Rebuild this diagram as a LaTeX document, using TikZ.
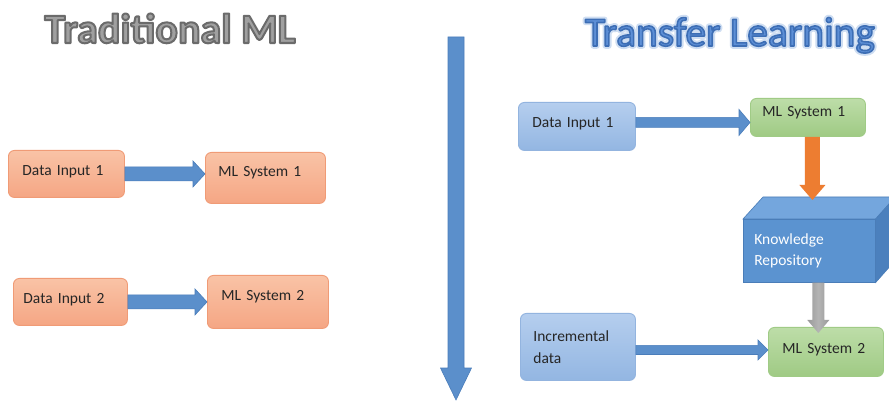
\documentclass[tikz,border=0pt]{standalone}
\usepackage{fontspec}
\setmainfont{Carlito}
\usetikzlibrary{calc}

\definecolor{orTop}{HTML}{F9C3A6}
\definecolor{orBot}{HTML}{F5A684}
\definecolor{orLine}{HTML}{F09B76}
\definecolor{blTop}{HTML}{B5CEEE}
\definecolor{blBot}{HTML}{93B6E2}
\definecolor{blLine}{HTML}{93B4DF}
\definecolor{grTop}{HTML}{BDDDA8}
\definecolor{grBot}{HTML}{9FCA84}
\definecolor{grLine}{HTML}{A0CB86}
\definecolor{textdark}{HTML}{262626}
\definecolor{arrowBlue}{HTML}{5B8FCB}
\definecolor{arrowBlueLine}{HTML}{4A7DBA}
\definecolor{arrowOrange}{HTML}{ED7D31}
\definecolor{arrowGrayEdge}{HTML}{999999}
\definecolor{arrowGrayMid}{HTML}{B4B4B4}
\definecolor{cubeFront}{HTML}{5B93D0}
\definecolor{cubeTop}{HTML}{74A6DD}
\definecolor{cubeSide}{HTML}{4B80BD}
\definecolor{cubeLine}{HTML}{4A7DB8}
\definecolor{titleGray}{HTML}{A0A0A0}
\definecolor{titleBlue}{HTML}{5D8FD6}
\definecolor{titleGlow}{HTML}{CFDDF2}

% text filled in #1 and stroked with rgb #2 at width #3 (PDF text render mode 2)
\newcommand{\strokedtext}[4]{%
  {\color{#1}\special{pdf:literal direct 2 Tr #3 w 1 j #2 RG}#4\special{pdf:literal direct 0 Tr}}}

% horizontal block arrow: style, from, to, shaft half-height, head half-height, head length
\newcommand{\hblock}[6]{%
  \path[#1] let \p1=(#2), \p2=(#3) in
    (\x1,\y1+#4) -- (\x2-#6,\y1+#4) -- (\x2-#6,\y1+#5) -- (\x2,\y1)
    -- (\x2-#6,\y1-#5) -- (\x2-#6,\y1-#4) -- (\x1,\y1-#4) -- cycle;}
% downward block arrow: style, from, to, shaft half-width, head half-width, head length
\newcommand{\vblock}[6]{%
  \path[#1] let \p1=(#2), \p2=(#3) in
    (\x1-#4,\y1) -- (\x1-#4,\y2+#6) -- (\x1-#5,\y2+#6) -- (\x1,\y2)
    -- (\x1+#5,\y2+#6) -- (\x1+#4,\y2+#6) -- (\x1+#4,\y1) -- cycle;}

\begin{document}
\begin{tikzpicture}[x=1pt,y=-1pt,
  box/.style={rounded corners=6pt, draw, line width=0.9pt, anchor=north west,
    inner ysep=0pt, align=left, text=textdark,
    font=\fontsize{15.5}{18}\selectfont},
  oneline/.style={text height=11pt, text depth=#1},
  orangebox/.style={box, draw=orLine, top color=orTop, bottom color=orBot},
  bluebox/.style={box, draw=blLine, top color=blTop, bottom color=blBot},
  greenbox/.style={box, draw=grLine, top color=grTop, bottom color=grBot},
  blockblue/.style={fill=arrowBlue, draw=arrowBlueLine, line width=0.6pt},
  blockorange/.style={fill=arrowOrange},
  blockgray/.style={left color=arrowGrayEdge, right color=arrowGrayEdge,
    middle color=arrowGrayMid},
]
\path[use as bounding box, fill=white] (0,0) rectangle (889,403);
\clip (0,0) rectangle (889,403);

% titles
\node[anchor=base, inner sep=0pt] (ttrad) at (170,43)
  {\fontsize{42}{42}\selectfont\bfseries
   \strokedtext{titleGray}{0.42 0.42 0.42}{2}{Traditional ML}};
\node[anchor=base, inner sep=0pt] (ttrans) at (730,46)
  {\fontsize{41.5}{42}\selectfont
   \rlap{\strokedtext{titleGlow}{0.81 0.87 0.95}{5.5}{Transfer Learning}}%
   \strokedtext{titleBlue}{0.24 0.43 0.71}{1.6}{Transfer Learning}};

% traditional ML
\node[orangebox, oneline=8pt, text width=88pt, inner xsep=14pt, minimum height=47pt] (di1) at (8,150) {Data Input 1};
\node[orangebox, oneline=14pt, text width=94pt, inner xsep=13pt, minimum height=51pt] (ml1) at (205,152) {ML System 1};
\node[orangebox, oneline=8pt, text width=94pt, inner xsep=10pt, minimum height=47pt] (di2) at (13,278) {Data Input 2};
\node[orangebox, oneline=14pt, text width=93pt, inner xsep=14pt, minimum height=53pt] (ml2) at (207,275) {ML System 2};
\hblock{blockblue}{di1.east}{ml1.west}{7pt}{13pt}{12pt}
\hblock{blockblue}{di2.east}{ml2.west}{7pt}{13pt}{12pt}

% divider
\coordinate (divtop) at (456,37);
\coordinate (divbot) at (456,400);
\vblock{blockblue}{divtop}{divbot}{8pt}{15.5pt}{32pt}

% transfer learning
\node[bluebox, oneline=9pt, text width=89pt, inner xsep=14pt, minimum height=48pt] (rdi1) at (518,102) {Data Input 1};
\node[greenbox, oneline=13pt, text width=91pt, inner xsep=12pt, minimum height=38pt] (rml1) at (750,98) {ML System 1};
\node[bluebox, text width=89pt, inner xsep=13pt, minimum height=67pt,
      font=\fontsize{15.5}{22}\selectfont] (inc) at (520,313) {Incremental\\data};
\node[greenbox, oneline=8pt, text width=87pt, inner xsep=14pt, minimum height=49pt] (rml2) at (768,327) {ML System 2};

% knowledge repository block
\node[anchor=north west, draw=cubeLine, fill=cubeFront, line width=0.6pt,
      minimum width=132pt, minimum height=63pt, inner ysep=0pt, inner xsep=11pt,
      text width=110pt, align=left, text=white, font=\fontsize{15.5}{21}\selectfont]
      (cube) at (743,219) {Knowledge\\Repository};
\draw[cubeLine, fill=cubeTop, line width=0.6pt] (cube.north west) -- ++(20,-22) -- ++(132,0) -- (cube.north east) -- cycle;
\draw[cubeLine, fill=cubeSide, line width=0.6pt] (cube.north east) -- ++(20,-22) -- ++(0,63) -- (cube.south east) -- cycle;

\hblock{blockblue}{$(rdi1.east)+(0,-4)$}{rml1.west}{5pt}{13pt}{11pt}
\hblock{blockblue}{$(inc.east)+(0,3)$}{rml2.west}{4.5pt}{10pt}{10pt}
\coordinate (kin) at (812,200);
\vblock{blockorange}{$(rml1.south)+(4.5,0)$}{kin}{7.5pt}{13pt}{15pt}
\vblock{blockgray}{$(cube.south)+(9,0)$}{$(rml2.north)+(0,6)$}{6pt}{11pt}{13pt}
\end{tikzpicture}
\end{document}
